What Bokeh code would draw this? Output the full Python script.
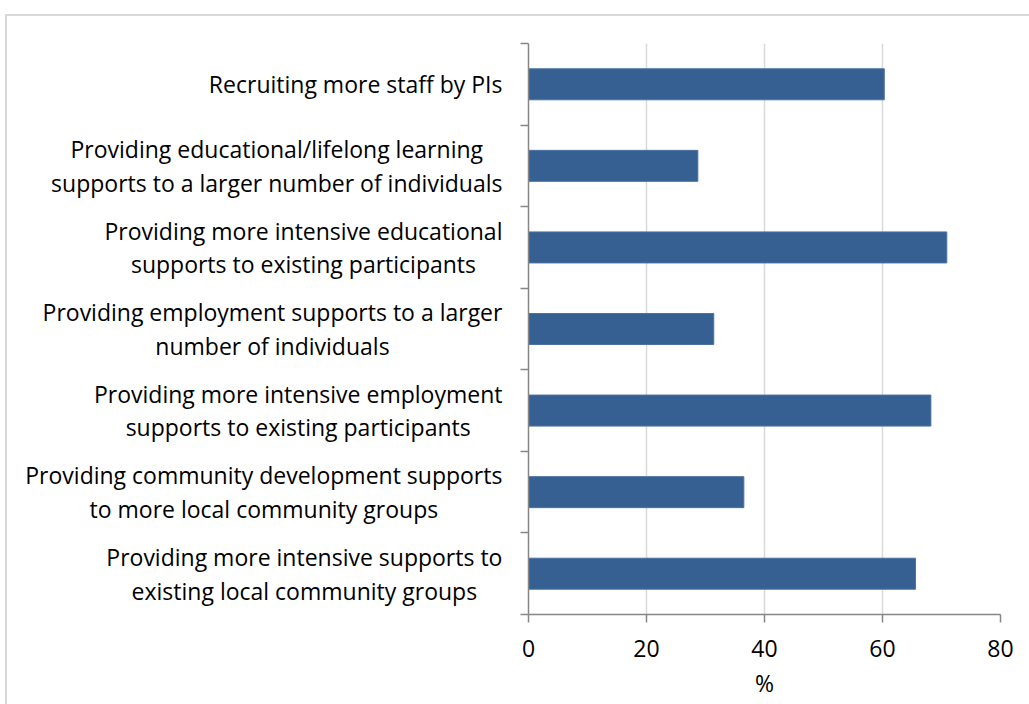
import subprocess, glob
from bokeh.plotting import figure
from bokeh.layouts import row
from bokeh.models import FixedTicker, Range1d, ColumnDataSource, InlineStyleSheet
from bokeh.core.properties import value
from bokeh.embed import file_html
from bokeh.resources import INLINE

categories = [
    "Recruiting more staff by PIs",
    "Providing educational/lifelong learning\nsupports to a larger number of individuals",
    "Providing more intensive educational\nsupports to existing participants",
    "Providing employment supports to a larger\nnumber of individuals",
    "Providing more intensive employment\nsupports to existing participants",
    "Providing community development supports\nto more local community groups",
    "Providing more intensive supports to\nexisting local community groups",
]
values = [60.3, 28.7, 70.9, 31.4, 68.2, 36.5, 65.6]
x_ticks = [0, 20, 40, 60, 80]
x_label = "%"

FONT = "Open Sans"
FONT_PX = 23


def find_font(name):
    path = ""
    try:
        path = subprocess.run(["fc-match", "-f", "%{file}", name],
                              capture_output=True, text=True).stdout.strip()
    except Exception:
        path = ""
    if not path:
        cands = glob.glob("/usr/share/fonts/**/OpenSans-Regular.ttf", recursive=True) + \
            glob.glob("/usr/share/fonts/**/OpenSans*.ttf", recursive=True)
        path = cands[0] if cands else ""
    return path


def text_width(s):
    try:
        from PIL import ImageFont
        f = ImageFont.truetype(find_font(FONT), FONT_PX)
        return f.getlength(s)
    except Exception:
        return len(s) * FONT_PX * 0.52


n = len(categories)
ypos = [n - 1 - i + 0.5 for i in range(n)]
yr = Range1d(0, n)

H = 704
TOP = 43
BOTTOM = 90
LABEL_W = 510   # width of the label panel (px)
LABEL_GAP = 8   # gap between label block right edge and panel edge

# ---- label panel ----
widths = [max(text_width(line) for line in c.split("\n")) for c in categories]
lab_src = ColumnDataSource(dict(
    x=[LABEL_W - LABEL_GAP - w / 2 for w in widths], y=ypos, t=categories))
lp = figure(width=LABEL_W, height=H, output_backend="svg", toolbar_location=None,
            x_range=Range1d(0, LABEL_W), y_range=yr,
            min_border_left=0, min_border_right=0, min_border_top=TOP, min_border_bottom=BOTTOM)
lp.axis.visible = False
lp.grid.visible = False
lp.outline_line_color = None
lp.text(x="x", y="y", text="t", source=lab_src, text_align="center", text_baseline="middle",
        text_font=value(FONT), text_font_size=f"{FONT_PX}px", text_color="#000000",
        text_line_height=1.05)

# ---- chart ----
src = ColumnDataSource(dict(y=ypos, v=values))
p = figure(width=519, height=H, output_backend="svg", toolbar_location=None,
           x_range=Range1d(0, 80), y_range=yr,
           min_border_left=18, min_border_right=29, min_border_top=TOP, min_border_bottom=BOTTOM)
p.outline_line_color = None

p.hbar(y="y", right="v", left=0, height=0.38, source=src,
       fill_color="#376092", line_color="#4a72a3", line_width=1)

xa = p.xaxis[0]
xa.ticker = FixedTicker(ticks=x_ticks, minor_ticks=[])
xa.axis_line_color = "#868686"
xa.axis_line_width = 1.5
xa.major_tick_line_color = "#868686"
xa.major_tick_line_width = 1.5
xa.major_tick_out = 8
xa.major_tick_in = 0
xa.minor_tick_line_color = None
xa.major_label_text_font = FONT
xa.major_label_text_font_size = f"{FONT_PX}px"
xa.major_label_text_color = "#000000"
xa.major_label_standoff = 17
xa.axis_label = x_label
xa.axis_label_text_font = FONT
xa.axis_label_text_font_size = f"{FONT_PX}px"
xa.axis_label_text_font_style = "normal"
xa.axis_label_text_color = "#000000"
xa.axis_label_standoff = 7

ya = p.yaxis[0]
ya.ticker = FixedTicker(ticks=[], minor_ticks=list(range(n + 1)))
ya.axis_line_color = "#868686"
ya.axis_line_width = 1.5
ya.major_tick_line_color = None
ya.minor_tick_line_color = "#868686"
ya.minor_tick_line_width = 1.5
ya.minor_tick_out = 8
ya.minor_tick_in = 0
ya.major_label_text_font_size = "0px"

p.ygrid.grid_line_color = None
p.xgrid.ticker = FixedTicker(ticks=x_ticks)
p.xgrid.grid_line_color = "#d9d9d9"
p.xgrid.grid_line_width = 1.5

layout = row(lp, p, spacing=0)
layout.stylesheets = [InlineStyleSheet(css=(
    ":host::after { content: ''; position: absolute; left: 5px; top: 14px; right: 0; bottom: 0;"
    " border-left: 2px solid #d9d9d9; border-top: 2px solid #d9d9d9; pointer-events: none; }"
))]

open("out.html", "w").write(file_html(layout, INLINE))
